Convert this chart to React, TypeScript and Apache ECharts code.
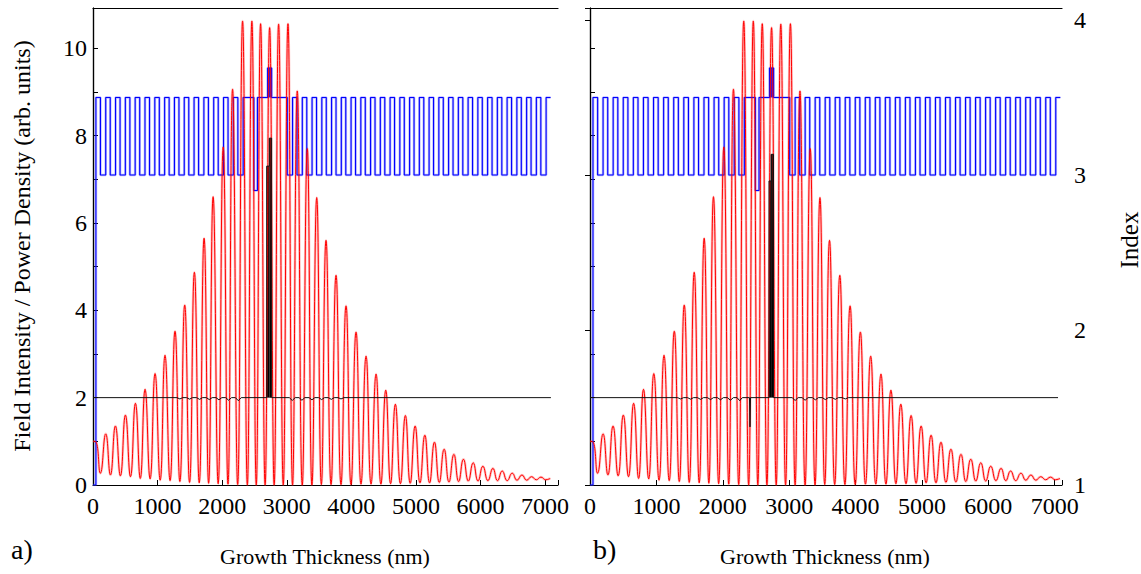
import React, { useEffect, useRef } from 'react';
import * as echarts from 'echarts';

const FONT = 'Liberation Serif, Times New Roman, serif';

type Pt = [number, number];
type Block = [number, number, number]; // [start nm, end nm, height]

// Refractive-index stack, each entry [thickness (nm), index]
const airGap: Pt = [45, 1.0];
const frontMirrorPair: Pt[] = [[70, 3.5], [82, 3.0]];
const frontMirrorPairs = 15;
const cavityLayers: Pt[] = [[166, 3.5], [55, 2.9], [158, 3.5], [62, 3.69], [242, 3.5]];
const backMirrorPair: Pt[] = [[82, 3.0], [69, 3.5]];
const backMirrorPairs = 27;
// quantum-well package drawn as a solid block above the 3.5 level
const wellBlock: Block = [2704, 2766, 3.69];
const wellBase = 3.5;

// Standing-wave field intensity: alternating maxima / minima [nm, value]
const fieldFront: Pt[] = [
  [0, 1.0], [45, 0.99], [114, 0.27], [197, 1.17], [270, 0.23], [347, 1.35], [424, 0.21],
  [502, 1.6], [580, 0.19], [657, 1.87], [732, 0.15], [806, 2.19], [884, 0.14], [961, 2.55],
  [1040, 0.11], [1115, 2.97], [1193, 0.1], [1270, 3.52], [1345, 0.08], [1420, 4.12],
  [1495, 0.06], [1570, 4.87], [1645, 0.05], [1720, 5.65], [1790, 0.04], [1860, 6.6],
  [1938, 0.03], [2016, 7.74], [2090, 0.02], [2161, 9.06], [2240, 0.01],
];
const fieldCavity: Pt[] = [
  [2316, 10.62], [2390, 0], [2460, 10.62], [2528, 0], [2595, 10.56], [2665, 0],
  [2735, 10.47], [2805, 0], [2874, 10.55], [2946, 0], [3019, 10.56],
];
const fieldBack: Pt[] = [
  [3090, 0], [3163, 9.02], [3240, 0], [3318, 7.7], [3390, 0], [3464, 6.58], [3536, 0.01],
  [3608, 5.6], [3686, 0.01], [3763, 4.8], [3840, 0.01], [3918, 4.1], [3995, 0.01],
  [4073, 3.5], [4150, 0.02], [4228, 2.95], [4305, 0.02], [4383, 2.54], [4458, 0.02],
  [4533, 2.17], [4608, 0.03], [4682, 1.85], [4760, 0.03], [4837, 1.59], [4912, 0.04],
  [4988, 1.35], [5063, 0.05], [5138, 1.14], [5212, 0.05], [5287, 0.98], [5362, 0.06],
  [5437, 0.82], [5512, 0.07], [5588, 0.7], [5662, 0.08], [5736, 0.59], [5812, 0.09],
  [5887, 0.51], [5962, 0.09], [6037, 0.43], [6115, 0.1], [6192, 0.38], [6264, 0.1],
  [6336, 0.32], [6414, 0.1], [6491, 0.27], [6566, 0.11], [6642, 0.23], [6716, 0.11],
  [6791, 0.19], [6864, 0.12], [6936, 0.18], [7010, 0.12], [7080, 0.15],
];

// Power density (offset baseline 2) — panel a
const powerFrontA: Pt[] = [
  [0, 2], [1300, 2], [1345, 1.97], [1390, 2], [1450, 2], [1495, 1.965], [1540, 2],
  [1605, 2], [1650, 1.96], [1695, 2], [1755, 2], [1800, 1.955], [1845, 2], [1905, 2],
  [1950, 1.95], [1995, 2], [2055, 2], [2100, 1.94], [2145, 2], [2205, 2], [2250, 1.93],
  [2295, 2],
];
const absorptionA: Block[] = [[2690, 2730, 7.3], [2730, 2766, 7.94]];
const powerBackA: Pt[] = [
  [3040, 2], [3085, 1.935], [3130, 2], [3190, 2], [3235, 1.94], [3280, 2], [3345, 2],
  [3390, 1.95], [3435, 2], [3495, 2], [3540, 1.955], [3585, 2], [3645, 2], [3690, 1.96],
  [3735, 2], [3795, 2], [3840, 1.97], [3885, 2], [7090, 2],
];

// Power density — panel b
const powerFrontB: Pt[] = [
  [0, 2], [1320, 2], [1365, 1.97], [1410, 2], [1470, 2], [1515, 1.965], [1560, 2],
  [1620, 2], [1665, 1.96], [1710, 2], [1770, 2], [1815, 1.955], [1860, 2], [1920, 2],
  [1965, 1.95], [2010, 2], [2070, 2], [2115, 1.94], [2160, 2], [2215, 2], [2255, 1.93],
  [2295, 2], [2402, 2], [2410, 1.33], [2418, 2],
];
const absorptionB: Block[] = [[2697, 2728, 6.96], [2728, 2764, 7.57]];
const powerBackB: Pt[] = [
  [3045, 2], [3090, 1.935], [3135, 2], [3195, 2], [3240, 1.94], [3285, 2], [3350, 2],
  [3395, 1.95], [3440, 2], [3500, 2], [3545, 1.955], [3590, 2], [3650, 2], [3695, 1.96],
  [3740, 2], [3800, 2], [3845, 1.97], [3890, 2], [7050, 2],
];

const xMaxA = 7200;
const xMaxB = 7110;
const yMax = 10.92;
const indexMin = 1;
const indexMax = 4.077;

function repeatPair(pair: Pt[], n: number): Pt[] {
  const out: Pt[] = [];
  for (let i = 0; i < n; i++) out.push(...pair);
  return out;
}

function stackToSteps(layers: Pt[]): Pt[] {
  const pts: Pt[] = [];
  let x = 0;
  for (const [d, n] of layers) {
    pts.push([x, n]);
    x += d;
    pts.push([x, n]);
  }
  return pts;
}

function blockOutline(blocks: Block[], base: number): Pt[] {
  const pts: Pt[] = [[blocks[0][0], base]];
  for (const [s, e, h] of blocks) pts.push([s, h], [e, h]);
  pts.push([blocks[blocks.length - 1][1], base]);
  return pts;
}

function blockAreas(blocks: Block[], base: number) {
  return blocks.map(([s, e, h]) => [{ xAxis: s, yAxis: base }, { xAxis: e, yAxis: h }]);
}

const indexSteps = stackToSteps([
  airGap,
  ...repeatPair(frontMirrorPair, frontMirrorPairs),
  ...cavityLayers,
  ...repeatPair(backMirrorPair, backMirrorPairs),
]);
const fieldProfile: Pt[] = [...fieldFront, ...fieldCavity, ...fieldBack];

function panelSeries(g: number, front: Pt[], blocks: Block[], back: Pt[]) {
  const xi = g * 2;
  const yl = g * 2;
  const yr = g * 2 + 1;
  const common = { type: 'line', symbol: 'none', silent: true, xAxisIndex: xi, animation: false };
  return [
    {
      ...common, yAxisIndex: yr, data: indexSteps,
      lineStyle: { color: 'rgba(70,70,255,0.35)', width: 2.6 }, z: 2,
    },
    {
      ...common, yAxisIndex: yl, data: fieldProfile, smooth: 0.5,
      lineStyle: { color: 'rgba(255,60,60,0.3)', width: 2.6 }, z: 3,
    },
    {
      ...common, yAxisIndex: yr, data: indexSteps,
      lineStyle: { color: '#0000ff', width: 1.1 }, z: 4,
    },
    {
      ...common, yAxisIndex: yl, data: fieldProfile, smooth: 0.5,
      lineStyle: { color: '#ff0000', width: 1 }, z: 5,
    },
    {
      ...common, yAxisIndex: yr, data: [],
      z: 6,
      markArea: {
        silent: true,
        itemStyle: { color: '#0000ff', opacity: 1 },
        data: blockAreas([wellBlock], wellBase),
      },
    },
    {
      ...common, yAxisIndex: yl,
      data: [...front, ...blockOutline(blocks, 2), ...back],
      lineStyle: { color: '#111', width: 1 }, z: 7,
      markArea: {
        silent: true,
        itemStyle: { color: '#000', opacity: 1 },
        data: blockAreas(blocks, 2),
      },
    },
  ];
}

const axisLine = { show: true, lineStyle: { color: '#000', width: 1.2 } };
const labelStyle = { color: '#000', fontFamily: FONT, fontSize: 24 };

function xAxes(g: number, max: number) {
  return [
    {
      type: 'value', gridIndex: g, position: 'bottom', min: 0, max, interval: 1000,
      axisLine, splitLine: { show: false },
      axisTick: { show: true, inside: true, length: 5, lineStyle: { color: '#000' } },
      axisLabel: {
        ...labelStyle, margin: 9,
        formatter: (v: number) => (v % 1000 === 0 ? String(v) : ''),
      },
    },
    {
      type: 'value', gridIndex: g, position: 'top', min: 0, max,
      axisLine, splitLine: { show: false }, axisTick: { show: false }, axisLabel: { show: false },
    },
  ];
}

function yAxes(g: number, showLeftLabels: boolean, showRight: boolean) {
  return [
    {
      type: 'value', gridIndex: g, position: 'left', min: 0, max: yMax, interval: 1,
      axisLine, splitLine: { show: false },
      axisTick: { show: true, inside: true, length: 5, lineStyle: { color: '#000' } },
      axisLabel: {
        show: showLeftLabels, ...labelStyle, margin: 6,
        formatter: (v: number) => (Number.isInteger(v) && v % 2 === 0 ? String(v) : ''),
      },
    },
    {
      type: 'value', gridIndex: g, position: 'right', min: indexMin, max: indexMax, interval: 1,
      axisLine, splitLine: { show: false },
      axisTick: { show: showRight, inside: true, length: 5, lineStyle: { color: '#000' } },
      axisLabel: {
        show: showRight, ...labelStyle, margin: 12,
        formatter: (v: number) => (Number.isInteger(v) ? String(v) : ''),
      },
    },
  ];
}

function text(x: number, y: number, t: string, size: number, rotation = 0, align = 'center') {
  return {
    type: 'text', x, y, rotation, silent: true,
    style: {
      text: t, fill: '#000', fontFamily: FONT, fontSize: size,
      align, verticalAlign: 'middle',
    },
  };
}

export default function App() {
  const ref = useRef<HTMLDivElement>(null);
  useEffect(() => {
    if (!ref.current) return;
    const chart = echarts.init(ref.current, undefined, { renderer: 'svg' });
    chart.setOption({
      animation: false,
      backgroundColor: '#fff',
      grid: [
        { left: 93, top: 8, width: 465, height: 477 },
        { left: 590, top: 8, width: 472, height: 477 },
      ],
      xAxis: [...xAxes(0, xMaxA), ...xAxes(1, xMaxB)],
      yAxis: [...yAxes(0, true, false), ...yAxes(1, false, true)],
      series: [
        ...panelSeries(0, powerFrontA, absorptionA, powerBackA),
        ...panelSeries(1, powerFrontB, absorptionB, powerBackB),
      ],
      graphic: [
        text(22, 246, 'Field Intensity / Power Density (arb. units)', 24, Math.PI / 2),
        text(1129, 240, 'Index', 25, Math.PI / 2),
        text(325, 556, 'Growth Thickness (nm)', 22),
        text(825, 556, 'Growth Thickness (nm)', 22),
        text(11, 549, 'a)', 28, 0, 'left'),
        text(593, 549, 'b)', 28, 0, 'left'),
      ],
    });
    return () => chart.dispose();
  }, []);
  return (
    <div
      ref={ref}
      style={{ position: 'absolute', left: 0, top: 0, width: 1141, height: 574 }}
    />
  );
}
